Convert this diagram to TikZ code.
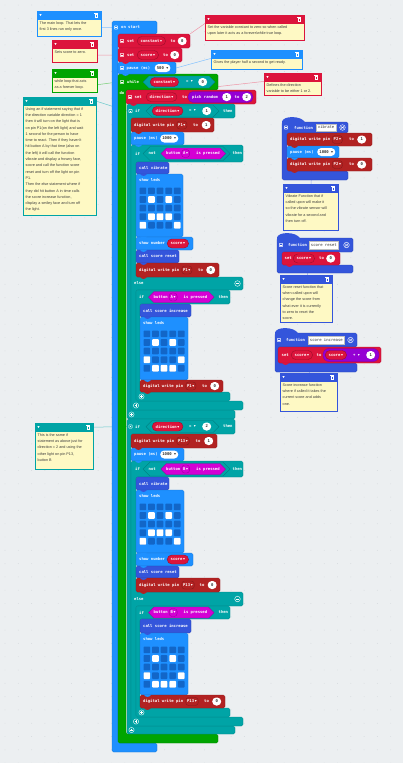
\documentclass[tikz,border=0pt]{standalone}
\usepackage{fontspec}
\setmonofont{DejaVu Sans Mono}
\newfontfamily\cfont{Liberation Sans}
\newfontfamily\djv{DejaVu Sans}
\definecolor{bgc}{RGB}{236,239,241}
\definecolor{dotc}{RGB}{214,218,222}
\definecolor{basicc}{RGB}{30,144,255}
\definecolor{varc}{RGB}{220,20,60}
\definecolor{loopc}{RGB}{0,165,0}
\definecolor{logicc}{RGB}{0,164,166}
\definecolor{pinc}{RGB}{178,34,34}
\definecolor{funcc}{RGB}{52,85,219}
\definecolor{inputc}{RGB}{212,0,212}
\definecolor{mathc}{RGB}{148,0,211}
\definecolor{cbody}{RGB}{254,249,196}
\definecolor{ledoff}{RGB}{18,102,200}
\definecolor{ctext}{RGB}{60,60,60}
\pgfdeclarelayer{back}
\pgfdeclarelayer{lines}
\pgfdeclarelayer{top}
\pgfsetlayers{back,lines,main,top}
\newcounter{tn}
\newcommand\dn{{\djv\mdseries\char"25BE}}
\tikzset{
  blkn/.style={rectangle, rounded corners=1.5pt, line width=0.25pt, inner sep=0pt, outer sep=0pt},
  cs/.style={rounded corners=1.5pt, line width=0.25pt},
  hn/.style={rectangle, inner sep=0pt, outer sep=0pt, anchor=north west},
  bfont/.style={font=\ttfamily\bfseries\fontsize{3.9}{4.5}\selectfont},
  bt/.style={bfont, text=white, inner sep=0pt, anchor=west},
  ddn/.style={bfont, text=white, inner xsep=3.5pt, inner ysep=0pt, minimum height=9pt, rounded corners=4.5pt, line width=0.4pt, anchor=west},
  pdn/.style={bfont, text=white, inner xsep=1.5pt, inner ysep=0pt, minimum height=8pt, rounded corners=3pt, line width=0.3pt, anchor=west},
  valn/.style={bfont, fill=white, text=black!80, inner xsep=2.2pt, inner ysep=0pt, minimum height=8pt, minimum width=9pt, rounded corners=4pt, anchor=west},
  fbn/.style={font=\ttfamily\fontsize{3.9}{4.5}\selectfont, fill=white, draw=black!25, line width=0.2pt, text=black!80, inner xsep=1.8pt, inner ysep=0pt, minimum height=7.5pt, anchor=west},
  ctxt/.style={font=\cfont\fontsize{3.75}{6.3}\selectfont, text=ctext, align=left, inner sep=0pt, anchor=north west},
  cline/.style={line width=0.5pt},
}
\newcommand\tx[3]{\stepcounter{tn}\node[bt] (t\arabic{tn}) at (#1,#2) {#3};}
\newcommand\dd[4]{\stepcounter{tn}\node[ddn, fill=#3, draw=#3!70!black] (t\arabic{tn}) at (#1,#2) {#4\,\dn};}
\newcommand\pd[4]{\stepcounter{tn}\node[pdn, fill=#3, draw=#3!70!black] (t\arabic{tn}) at (#1,#2) {#4\,\dn};}
\newcommand\vl[3]{\stepcounter{tn}\node[valn] (t\arabic{tn}) at (#1,#2) {#3};}
\newcommand\fb[3]{\stepcounter{tn}\node[fbn] (t\arabic{tn}) at (#1,#2) {#3};}
\newcommand\bk[6]{%
  \node[blkn, fill=#2, draw=#2!80!black, minimum width=#5pt, minimum height=#6pt, anchor=north west] (#1) at (#3,#4) {};
  \begin{pgfonlayer}{top}\fill[#2] ({#3+4},{#4+#6-0.3}) .. controls ({#3+5},{#4+#6+2.6}) and ({#3+10},{#4+#6+2.6}) .. ({#3+11},{#4+#6-0.3}) -- cycle;\end{pgfonlayer}}
\newcommand\hexa[5]{\path[fill=#5, draw=#5!75!black, line width=0.35pt] (#1,#3) -- ({#1+#4/2},{#3-#4/2}) -- ({#2-#4/2},{#3-#4/2}) -- (#2,#3) -- ({#2-#4/2},{#3+#4/2}) -- ({#1+#4/2},{#3+#4/2}) -- cycle;}
\newcommand\ic[2]{\draw[white, line width=0.35pt, rounded corners=0.4pt] ({#1-1.6},{#2-1.6}) rectangle ({#1+1.6},{#2+1.6}); \draw[white, line width=0.3pt] ({#1-0.8},{#2}) -- ({#1+0.8},{#2});}
\newcommand\plusic[2]{\draw[white, line width=0.4pt] (#1,#2) circle (2.6pt); \draw[white, line width=0.45pt] ({#1-1.4},{#2}) -- ({#1+1.4},{#2}) ({#1},{#2-1.4}) -- ({#1},{#2+1.4});}
\newcommand\minusic[2]{\draw[white, line width=0.4pt] (#1,#2) circle (2.8pt); \draw[white, line width=0.5pt] ({#1-1.5},{#2}) -- ({#1+1.5},{#2});}
\newcommand\gear[2]{\draw[white, line width=0.4pt] (#1,#2) circle (2.8pt); \draw[white, line width=0.35pt] ({#1-1.4},{#2-1.4}) -- ({#1+1.4},{#2+1.4}) ({#1-1.4},{#2+1.4}) -- ({#1+1.4},{#2-1.4}) ({#1-1.9},{#2}) -- ({#1+1.9},{#2});}
\newcommand\ledgrid[3]{%
  \foreach \c in {0,...,4}{\foreach \r in {0,...,4}{\fill[ledoff, rounded corners=0.8pt] ({#1+\c*8.6},{#2+\r*8.6}) rectangle ++(6.7,6.7);}}
  \foreach \c/\r in {#3}{\fill[white, rounded corners=0.8pt] ({#1+\c*8.6},{#2+\r*8.6}) rectangle ++(6.7,6.7);}}
% comment: name, colour, x, y, w, body height, text
\newcommand\cmt[7]{%
  \node[rectangle, fill=cbody, draw=#2, line width=0.4pt, inner sep=0pt, minimum width=#5pt, minimum height=#6pt, anchor=north west] (#1) at (#3,{#4+8}) {};
  \node[rectangle, fill=#2, draw=#2, line width=0.4pt, inner sep=0pt, minimum width=#5pt, minimum height=8pt, anchor=north west] (#1h) at (#3,#4) {};
  \fill[white] ({#3+2.4},{#4+3.2}) -- ({#3+4.6},{#4+3.2}) -- ({#3+3.5},{#4+4.9}) -- cycle;
  \draw[white, line width=0.3pt] ({#3+#5-6.2},{#4+2.8}) rectangle ({#3+#5-3.8},{#4+6.2});
  \draw[white, line width=0.3pt] ({#3+#5-6.8},{#4+2.4}) -- ({#3+#5-3.2},{#4+2.4});
  \node[ctxt] (#1t) at ({#3+2.5},{#4+10.2}) {#7};}
\begin{document}
\begin{tikzpicture}[x=1pt,y=-1pt]
\useasboundingbox (0,0) rectangle (403,763);
\begin{pgfonlayer}{back}
\fill[bgc] (0,0) rectangle (403,763);
\foreach \i in {0,...,30}{\foreach \j in {0,...,57}{\fill[dotc] ({5+\i*13.3},{5+\j*13.3}) circle (0.45pt);}}
\end{pgfonlayer}

% ---------------- on start ----------------
\path[cs, fill=basicc, draw=basicc!80!black] (112,21) -- (157,21) -- (157,34) -- (118,34) -- (118,743) -- (157,743) -- (157,752) -- (112,752) -- cycle;
\node[hn, minimum width=45pt, minimum height=13pt] (onstart) at (112,21) {};
\ic{116}{27.5} \tx{121}{27.5}{on start}

% while
\path[cs, fill=loopc, draw=loopc!80!black] (118,74) -- (218,74) -- (218,90) -- (126,90) -- (126,734) -- (218,734) -- (218,743) -- (118,743) -- cycle;
\node[hn, minimum width=100pt, minimum height=16pt] (whileb) at (118,74) {};
\ic{122}{82} \tx{127}{82}{while}
\hexa{143}{215}{82}{12}{logicc}
\dd{150}{82}{varc}{constant}
\tx{186}{82}{= \dn}
\vl{198}{82}{0}
\tx{119.3}{93.5}{do}

% set constant / set score / pause
\bk{setconst}{varc}{118}{34}{72}{14}
\ic{122}{41} \tx{127}{41}{set} \dd{137}{41}{varc}{constant} \tx{170.5}{41}{to} \vl{177.5}{41}{0}
\bk{setscore}{varc}{118}{48}{64}{14}
\ic{122}{55} \tx{127}{55}{set} \dd{137}{55}{varc}{score} \tx{163}{55}{to} \vl{170}{55}{0}
\bk{pausea}{basicc}{118}{62}{58}{12}
\ic{122}{68} \tx{126.5}{68}{pause (ms)} \vl{154.5}{68}{500 \dn}

% set direction
\bk{setdir}{varc}{126}{90}{130}{14}
\ic{130}{97} \tx{134.5}{97}{set} \dd{146}{97}{varc}{direction} \tx{182}{97}{to}
\node[blkn, fill=mathc, draw=mathc!80!black, rounded corners=5pt, minimum width=65pt, minimum height=11pt, anchor=west] (rnd) at (188,97) {};
\tx{192}{97}{pick random} \vl{222}{97}{1} \tx{234.5}{97}{to} \vl{242}{97}{2}

% ---------------- if direction = 1 ----------------
\path[cs, fill=logicc, draw=logicc!80!black] (127,104) -- (235,104) -- (235,118) -- (131,118) -- (131,410) -- (235,410) -- (235,419) -- (127,419) -- cycle;
\node[hn, minimum width=108pt, minimum height=14pt] (ifdira) at (127,104) {};
\ic{130.5}{111} \tx{135}{111}{if}
\hexa{146}{219}{111}{12}{logicc}
\dd{152}{111}{varc}{direction} \tx{189}{111}{= \dn} \vl{202}{111}{1} \tx{223}{111}{then}

\bk{dwa}{pinc}{131}{118}{83}{14}
\tx{134}{125}{digital write pin} \pd{176.5}{125}{pinc}{P1} \tx{193}{125}{to} \vl{201.5}{125}{1}
\bk{pauseb}{basicc}{131}{132}{53}{13}
\tx{134}{138.5}{pause (ms)} \vl{160}{138.5}{1000 \dn}

% if not button A ... else
\path[cs, fill=logicc, draw=logicc!80!black] (131,145) -- (243,145) -- (243,162) -- (136,162) -- (136,277) -- (243,277) -- (243,290) -- (136,290) -- (136,401) -- (243,401) -- (243,410) -- (131,410) -- cycle;
\node[hn, minimum width=112pt, minimum height=17pt] (ifnota) at (131,145) {};
\tx{135}{153.5}{if}
\hexa{143}{230}{153.5}{14}{logicc}
\tx{148.5}{153.5}{not}
\hexa{161}{225.5}{153.5}{11}{inputc}
\tx{166}{153.5}{button} \pd{181.5}{153.5}{inputc}{A} \tx{196}{153.5}{is pressed}
\tx{232.5}{153.5}{then}

\bk{callvia}{funcc}{136}{162}{33}{12}
\tx{139}{168}{call vibrate}
\bk{ledsa}{basicc}{136}{174}{47}{63}
\tx{139}{180.5}{show leds}
\ledgrid{139.5}{187.5}{1/1,3/1,1/3,2/3,3/3,0/4,4/4}
\bk{showa}{basicc}{136}{237}{57}{13}
\tx{139}{243.5}{show number} \dd{167}{243.5}{varc}{score}
\bk{reseta}{funcc}{136}{250}{43}{13}
\tx{139}{256.5}{call score reset}
\bk{dwb}{pinc}{136}{263}{83}{14}
\tx{139}{270}{digital write pin} \pd{181.5}{270}{pinc}{P1} \tx{198}{270}{to} \vl{206}{270}{0}
\tx{134}{283.5}{else} \minusic{237.5}{283.5}

% if button A
\path[cs, fill=logicc, draw=logicc!80!black] (136,290) -- (230,290) -- (230,304) -- (140,304) -- (140,392) -- (230,392) -- (230,401) -- (136,401) -- cycle;
\node[hn, minimum width=94pt, minimum height=14pt] (ifa) at (136,290) {};
\tx{139}{297}{if}
\hexa{148.5}{214}{297}{11}{inputc}
\tx{153.5}{297}{button} \pd{169}{297}{inputc}{A} \tx{183.5}{297}{is pressed}
\tx{218.5}{297}{then}

\bk{inca}{funcc}{140}{304}{51}{13}
\tx{143}{310.5}{call score increase}
\bk{ledsb}{basicc}{140}{317}{48}{63}
\tx{143}{323.5}{show leds}
\ledgrid{143.5}{330.5}{1/1,3/1,0/3,4/3,1/4,2/4,3/4}
\bk{dwc}{pinc}{140}{380}{83}{12}
\tx{143}{386}{digital write pin} \pd{185.5}{386}{pinc}{P1} \tx{202}{386}{to} \vl{210}{386}{0}

\plusic{141.5}{396.5}
\plusic{136}{405.5}
\plusic{131.5}{414.5}

% ---------------- if direction = 2 ----------------
\path[cs, fill=logicc, draw=logicc!80!black] (127,419) -- (235,419) -- (235,434) -- (131,434) -- (131,726) -- (235,726) -- (235,734) -- (127,734) -- cycle;
\node[hn, minimum width=108pt, minimum height=15pt] (ifdirb) at (127,419) {};
\ic{130.5}{426.5} \tx{135}{426.5}{if}
\hexa{146}{219}{426.5}{12}{logicc}
\dd{152}{426.5}{varc}{direction} \tx{189}{426.5}{= \dn} \vl{202}{426.5}{2} \tx{223}{426.5}{then}

\bk{dwd}{pinc}{131}{434}{86}{14}
\tx{134}{441}{digital write pin} \pd{176.5}{441}{pinc}{P13} \tx{195.5}{441}{to} \vl{204}{441}{1}
\bk{pausec}{basicc}{131}{448}{53}{13}
\tx{134}{454.5}{pause (ms)} \vl{160}{454.5}{1000 \dn}

% if not button B ... else
\path[cs, fill=logicc, draw=logicc!80!black] (131,461) -- (243,461) -- (243,477) -- (136,477) -- (136,592) -- (243,592) -- (243,606) -- (136,606) -- (136,717) -- (243,717) -- (243,726) -- (131,726) -- cycle;
\node[hn, minimum width=112pt, minimum height=16pt] (ifnotb) at (131,461) {};
\tx{135}{469}{if}
\hexa{143}{230}{469}{14}{logicc}
\tx{148.5}{469}{not}
\hexa{161}{225.5}{469}{11}{inputc}
\tx{166}{469}{button} \pd{181.5}{469}{inputc}{B} \tx{196}{469}{is pressed}
\tx{232.5}{469}{then}

\bk{callvib}{funcc}{136}{477}{33}{13}
\tx{139}{483.5}{call vibrate}
\bk{ledsc}{basicc}{136}{490}{48}{63}
\tx{139}{496.5}{show leds}
\ledgrid{139.5}{503.5}{1/1,3/1,1/3,2/3,3/3,0/4,4/4}
\bk{showb}{basicc}{136}{553}{57}{13}
\tx{139}{559.5}{show number} \dd{167}{559.5}{varc}{score}
\bk{resetb}{funcc}{136}{566}{43}{12}
\tx{139}{572}{call score reset}
\bk{dwe}{pinc}{136}{578}{84}{14}
\tx{139}{585}{digital write pin} \pd{181.5}{585}{pinc}{P13} \tx{199.5}{585}{to} \vl{207.5}{585}{0}
\tx{134}{599}{else} \minusic{237.5}{599}

% if button B
\path[cs, fill=logicc, draw=logicc!80!black] (136,606) -- (230,606) -- (230,619) -- (140,619) -- (140,708) -- (230,708) -- (230,717) -- (136,717) -- cycle;
\node[hn, minimum width=94pt, minimum height=13pt] (ifb) at (136,606) {};
\tx{139}{612.5}{if}
\hexa{148.5}{214}{612.5}{11}{inputc}
\tx{153.5}{612.5}{button} \pd{169}{612.5}{inputc}{B} \tx{183.5}{612.5}{is pressed}
\tx{218.5}{612.5}{then}

\bk{incb}{funcc}{140}{619}{51}{14}
\tx{143}{626}{call score increase}
\bk{ledsd}{basicc}{140}{633}{48}{62}
\tx{143}{639.5}{show leds}
\ledgrid{143.5}{646.5}{1/1,3/1,0/3,4/3,1/4,2/4,3/4}
\bk{dwf}{pinc}{140}{695}{85}{13}
\tx{143}{701.5}{digital write pin} \pd{185.5}{701.5}{pinc}{P13} \tx{204}{701.5}{to} \vl{212}{701.5}{0}

\plusic{141.5}{712.5}
\plusic{136}{721.5}
\plusic{131.5}{730}

% ---------------- function vibrate ----------------
\path[cs, fill=funcc, draw=funcc!80!black] (282,122) -- (348,122) -- (348,133) -- (287,133) -- (287,171) -- (348,171) -- (348,180) -- (282,180) -- cycle;
\fill[funcc] (282,126) -- (282,121.5) .. controls (283.5,115.5) and (301,115.5) .. (305,122.2) -- (305,126) -- cycle;
\node[hn, minimum width=66pt, minimum height=11pt] (fvib) at (282,122) {};
\ic{286}{127.5} \tx{294}{127.5}{function} \fb{316}{127.5}{vibrate} \gear{342.5}{127.5}
\bk{fdwa}{pinc}{287}{133}{85}{13}
\tx{290}{139.5}{digital write pin} \pd{332}{139.5}{pinc}{P2} \tx{349}{139.5}{to} \vl{357}{139.5}{1}
\bk{fpause}{basicc}{287}{146}{52}{12}
\tx{290}{152}{pause (ms)} \vl{317}{152}{1000 \dn}
\bk{fdwb}{pinc}{287}{158}{85}{13}
\tx{290}{164.5}{digital write pin} \pd{332}{164.5}{pinc}{P2} \tx{349}{164.5}{to} \vl{357}{164.5}{0}

% function score reset
\path[cs, fill=funcc, draw=funcc!80!black] (277,238) -- (353,238) -- (353,252) -- (282,252) -- (282,265) -- (353,265) -- (353,273) -- (277,273) -- cycle;
\fill[funcc] (277,242) -- (277,237.5) .. controls (278.5,231.5) and (296,231.5) .. (300,238.2) -- (300,242) -- cycle;
\node[hn, minimum width=76pt, minimum height=14pt] (freset) at (277,238) {};
\ic{281}{245} \tx{288}{245}{function} \fb{309}{245}{score reset} \gear{346.5}{245}
\bk{fset}{varc}{282}{252}{58}{13}
\tx{284.5}{258.5}{set} \dd{293}{258.5}{varc}{score} \tx{319}{258.5}{to} \vl{326}{258.5}{0}

% function score increase
\path[cs, fill=funcc, draw=funcc!80!black] (275,333) -- (357,333) -- (357,347) -- (278,347) -- (278,363) -- (357,363) -- (357,372) -- (275,372) -- cycle;
\fill[funcc] (275,337) -- (275,332.5) .. controls (276.5,326.5) and (294,326.5) .. (298,333.2) -- (298,337) -- cycle;
\node[hn, minimum width=82pt, minimum height=14pt] (finc) at (275,333) {};
\ic{279}{340} \tx{286}{340}{function} \fb{308}{340}{score increase} \gear{350.5}{340}
\bk{fsetb}{varc}{278}{347}{103}{16}
\tx{281.5}{355}{set} \dd{291}{355}{varc}{score} \tx{316.5}{355}{to}
\node[blkn, fill=mathc, draw=mathc!80!black, rounded corners=6pt, minimum width=56pt, minimum height=13pt, anchor=west] (plus) at (323,355) {};
\dd{325}{355}{varc}{score} \tx{353}{355}{+ \dn} \vl{366}{355}{1}

% ---------------- comments ----------------
\cmt{cmain}{basicc}{37}{11}{64}{17}{The main loop. That lets the\\first 3 lines run only once.}
\cmt{cscore}{varc}{52}{40}{45}{14}{Sets score to zero.}
\cmt{cwhile}{loopc}{52}{69}{45}{15}{while loop that acts\\as a forever loop.}
\cmt{cifa}{logicc}{23}{97}{73}{110}{Using an if statement saying that if\\the direction variable direction = 1\\then it will turn on the light that is\\on pin P1(on the left light) and wait\\1 second for the person to have\\time to react. Then if they haven't\\hit button A by that time (also on\\the left) it will call the function\\vibrate and display a frowny face,\\score and call the function score\\reset and turn off the light on pin\\P1.\\Then the else statement where if\\they did hit button A in time calls\\the score increase function,\\display a smiley face and turn off\\the light.}
\cmt{cifb}{logicc}{35}{423}{58}{38}{This is the same if\\statement as above just for\\direction = 2 and using the\\other light on pin P13,\\button B}
\cmt{cconst}{varc}{205}{15}{99}{17}{Set the variable constant to zero so when called\\upon later it acts as a forever/while true loop.}
\cmt{cpause}{basicc}{211}{50}{91}{11}{Gives the player half a second to get ready.}
\cmt{cdir}{varc}{264}{73}{57}{14}{Defines the direction\\variable to be either 1 or 2.}
\cmt{cvib}{funcc}{283}{184}{55}{38}{Vibrate Function that if\\called upon will make it\\so the vibrate sensor will\\vibrate for a second and\\then turn off.}
\cmt{creset}{funcc}{280}{275}{52}{39}{Score reset function that\\when called upon will\\change the score from\\what ever it is currently\\to zero to reset the\\score.}
\cmt{cinc}{funcc}{280}{373}{57}{30}{Score increase function\\where if called it takes the\\current score and adds\\one.}

% ---------------- comment links ----------------
\begin{pgfonlayer}{lines}
\draw[cline, basicc!55] (cmain.east) -- (onstart.west);
\draw[cline, varc!45] (cscore.east) -- (setscore.west);
\draw[cline, loopc!55] (cwhile.east) -- (whileb.west);
\draw[cline, logicc!60] (cifah.east) -- (ifdira.west);
\draw[cline, logicc!60] (cifbh.east) -- (ifdirb.west);
\draw[cline, varc!45] (cconsth.south west) -- (setconst.north east);
\draw[cline, basicc!55] (cpauseh.south west) -- (pausea.east);
\draw[cline, varc!45] (cdirh.south west) -- (setdir.west);
\draw[cline, funcc!50] (fvib) -- (cvibh);
\draw[cline, funcc!50] (freset) -- (creseth);
\draw[cline, funcc!50] (finc) -- (cinch);
\end{pgfonlayer}
\end{tikzpicture}
\end{document}
